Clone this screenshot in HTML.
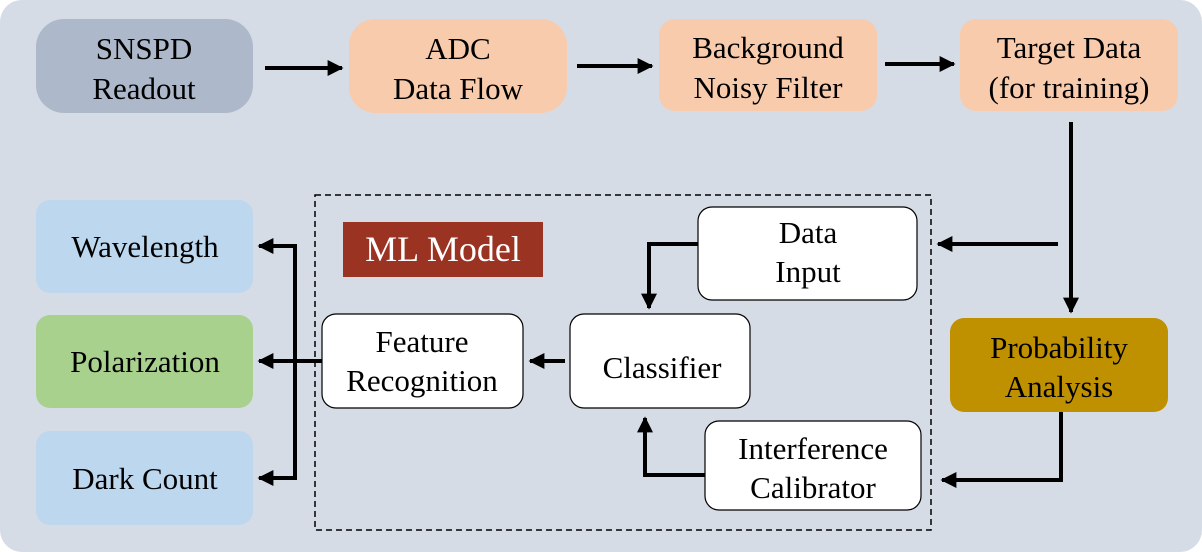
<!DOCTYPE html>
<html><head><style>
html,body{margin:0;padding:0;background:#fff;}
svg{display:block;}
text{font-family:"Liberation Serif",serif;font-size:31px;fill:#000;text-anchor:middle;}
</style></head><body>
<svg width="1202" height="552" viewBox="0 0 1202 552" xmlns="http://www.w3.org/2000/svg">
<defs>
<marker id="a" viewBox="0 0 10 10" refX="9" refY="5" markerWidth="4" markerHeight="4" orient="auto" markerUnits="strokeWidth">
<path d="M0,0 L10,5 L0,10 z" fill="#000"/>
</marker>
</defs>
<rect x="0" y="0" width="1202" height="552" rx="22" fill="#d6dce5"/>
<rect x="36" y="19" width="217" height="94" rx="28" fill="#adb9ca"/>
<text x="144" y="59">SNSPD</text><text x="144" y="99">Readout</text>
<rect x="349" y="19" width="218" height="94" rx="26" fill="#f8cbad"/>
<text x="458" y="59">ADC</text><text x="458" y="99">Data Flow</text>
<rect x="659" y="19" width="218" height="92" rx="16" fill="#f8cbad"/>
<text x="768" y="58">Background</text><text x="768" y="98">Noisy Filter</text>
<rect x="960" y="19" width="218" height="92" rx="16" fill="#f8cbad"/>
<text x="1069" y="58">Target Data</text><text x="1069" y="98">(for training)</text>
<g stroke="#000" stroke-width="4" fill="none" marker-end="url(#a)">
<line x1="265" y1="68" x2="342" y2="68"/>
<line x1="577" y1="66" x2="652" y2="66"/>
<line x1="885" y1="64" x2="954" y2="64"/>
<line x1="1071" y1="122" x2="1071" y2="312"/>
<line x1="1058" y1="244" x2="938" y2="244"/>
<polyline points="1061,412 1061,480 942,480"/>
<polyline points="698,244 649,244 649,308"/>
<polyline points="705,475 645,475 645,418"/>
<line x1="565" y1="361" x2="530" y2="361"/>
<line x1="322" y1="361" x2="259" y2="361"/>
<polyline points="295,361 295,246 259,246"/>
<polyline points="295,361 295,478 259,478"/>
</g>
<rect x="315" y="195" width="616" height="335" fill="none" stroke="#000" stroke-width="1.5" stroke-dasharray="6,4"/>
<rect x="343" y="222" width="200" height="55" fill="#9b3322"/>
<text x="443" y="261" style="fill:#fff;font-size:36px">ML Model</text>
<rect x="950" y="318" width="218" height="94" rx="14" fill="#bf9000"/>
<text x="1059" y="358">Probability</text><text x="1059" y="397">Analysis</text>
<rect x="698" y="207" width="219" height="93" rx="14" fill="#fff" stroke="#000" stroke-width="1.2"/>
<text x="808" y="243">Data</text><text x="808" y="282">Input</text>
<rect x="705" y="421" width="216" height="89" rx="14" fill="#fff" stroke="#000" stroke-width="1.2"/>
<text x="813" y="459">Interference</text><text x="813" y="498">Calibrator</text>
<rect x="570" y="314" width="180" height="94" rx="14" fill="#fff" stroke="#000" stroke-width="1.2"/>
<text x="662" y="378">Classifier</text>
<rect x="322" y="314" width="201" height="94" rx="14" fill="#fff" stroke="#000" stroke-width="1.2"/>
<text x="422" y="352">Feature</text><text x="422" y="391">Recognition</text>
<rect x="36" y="200" width="217" height="93" rx="14" fill="#bdd7ee"/>
<text x="145" y="257">Wavelength</text>
<rect x="36" y="315" width="217" height="93" rx="14" fill="#a9d18e"/>
<text x="145" y="372">Polarization</text>
<rect x="36" y="431" width="217" height="94" rx="14" fill="#bdd7ee"/>
<text x="145" y="489">Dark Count</text>
</svg>
</body></html>
